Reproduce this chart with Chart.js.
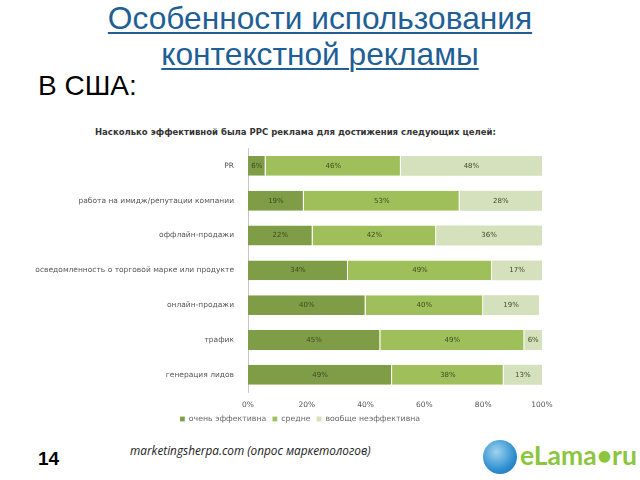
<!DOCTYPE html>
<html>
<head>
<meta charset="utf-8">
<script src="https://cdn.jsdelivr.net/npm/chart.js@4.4.0/dist/chart.umd.min.js"></script>
<style>
  html, body { margin:0; padding:0; background:#fff; width:640px; height:480px; overflow:hidden; position:relative; font-family:"Liberation Sans", Arial, sans-serif; }
  .title { position:absolute; left:0; width:640px; text-align:center; color:#1f5f96; font-size:31.7px; text-decoration:underline; text-decoration-thickness:2px; text-underline-offset:3px; line-height:34px; }
  .sub { position:absolute; left:38px; top:70px; font-size:28px; color:#000; }
  .ctitle { position:absolute; left:95px; top:127px; font-family:"DejaVu Sans", sans-serif; font-weight:bold; font-size:8.5px; color:#333; }
  #wrap { position:absolute; left:30px; top:138px; width:527px; height:295px; }
  .num { position:absolute; left:38px; top:448px; font-weight:bold; font-size:19px; color:#000; }
  .src { position:absolute; left:130px; top:442px; font-family:"Open Sans", sans-serif; font-style:italic; font-size:11.8px; color:#222; }
  .logo { position:absolute; left:483px; top:440px; width:34px; height:34px; border-radius:50%; background:radial-gradient(circle at 40% 35%, #9fd3f0, #2f8fd0 60%, #1f6aa8); }
  .logotxt { position:absolute; left:520px; top:439px; font-family:"Lato", sans-serif; font-weight:bold; font-size:26.5px; color:#8cc63f; }
</style>
</head>
<body>
<div class="title" style="top:1px;">Особенности использования</div>
<div class="title" style="top:37px;">контекстной рекламы</div>
<div class="sub">В США:</div>
<div class="ctitle">Насколько эффективной была PPC реклама для достижения следующих целей:</div>
<div id="wrap"><canvas id="c" width="527" height="295"></canvas></div>
<div class="num">14</div>
<div class="src">marketingsherpa.com (опрос маркетологов)</div>
<div class="logo"></div>
<div class="logotxt">eLama•ru</div>
<script>
const categories = ["PR", "работа на имидж/репутации компании", "оффлайн-продажи", "осведомленность о торговой марке или продукте", "онлайн-продажи", "трафик", "генерация лидов"];
const seriesNames = ["очень эффективна", "средне", "вообще неэффективна"];
const veryEffective = [6, 19, 22, 34, 40, 45, 49];
const medium = [46, 53, 42, 49, 40, 49, 38];
const notEffective = [48, 28, 36, 17, 19, 6, 13];
const xTicks = [0, 20, 40, 60, 80, 100];

const labelPlugin = {
  id: 'segLabels',
  afterDatasetsDraw(chart) {
    const ctx = chart.ctx;
    ctx.save();
    ctx.font = '7px "DejaVu Sans", sans-serif';
    ctx.fillStyle = '#3e4b22';
    ctx.textAlign = 'center';
    ctx.textBaseline = 'middle';
    chart.data.datasets.forEach((ds, i) => {
      const meta = chart.getDatasetMeta(i);
      meta.data.forEach((el, j) => {
        const cx = (el.x + el.base) / 2;
        ctx.fillText(ds.data[j] + '%', cx, el.y);
      });
    });
    ctx.restore();
  }
};

// shift the legend block slightly to the right, as in the reference
const legendShift = {
  id: 'legendShift',
  afterLayout(chart) {
    if (chart.legend) { chart.legend.left += 14; chart.legend.right += 14; }
  }
};

new Chart(document.getElementById('c'), {
  type: 'bar',
  data: {
    labels: categories,
    datasets: [
      { label: seriesNames[0], data: veryEffective, backgroundColor: '#7f9c46', borderColor: '#ffffff', borderWidth: {right:1, left:0, top:0, bottom:0}, borderSkipped: false },
      { label: seriesNames[1], data: medium, backgroundColor: '#9fbf5a', borderColor: '#ffffff', borderWidth: {right:1, left:0, top:0, bottom:0}, borderSkipped: false },
      { label: seriesNames[2], data: notEffective, backgroundColor: '#d4e1bc', borderColor: '#ffffff', borderWidth: 0 }
    ]
  },
  options: {
    indexAxis: 'y',
    responsive: false,
    animation: false,
    devicePixelRatio: 1,
    categoryPercentage: 0.57,
    barPercentage: 1,
    layout: { padding: { left: 0, right: 15, top: 7, bottom: 0 } },
    plugins: {
      legend: {
        position: 'bottom',
        labels: { boxWidth: 5, boxHeight: 5, font: { size: 7.8, family: '"DejaVu Sans", sans-serif' }, color: '#666', padding: 6 }
      },
      title: { display: false },
      tooltip: { enabled: false }
    },
    scales: {
      x: {
        stacked: true, min: 0, max: 100,
        afterBuildTicks: (s) => { s.ticks = xTicks.map(v => ({ value: v })); },
        ticks: { callback: (v) => v + '%', font: { size: 7.5, family: '"DejaVu Sans", sans-serif' }, color: '#555', maxRotation: 0, padding: 0 },
        grid: { display: false },
        border: { display: false }
      },
      y: {
        stacked: true,
        afterFit: (s) => { s.width = 218; },
        ticks: { font: { size: 7.5, family: '"DejaVu Sans", sans-serif' }, color: '#555', padding: 6 },
        grid: { display: false },
        border: { display: true, color: '#c8c8c8' }
      }
    }
  },
  plugins: [labelPlugin, legendShift]
});
</script>
</body>
</html>
